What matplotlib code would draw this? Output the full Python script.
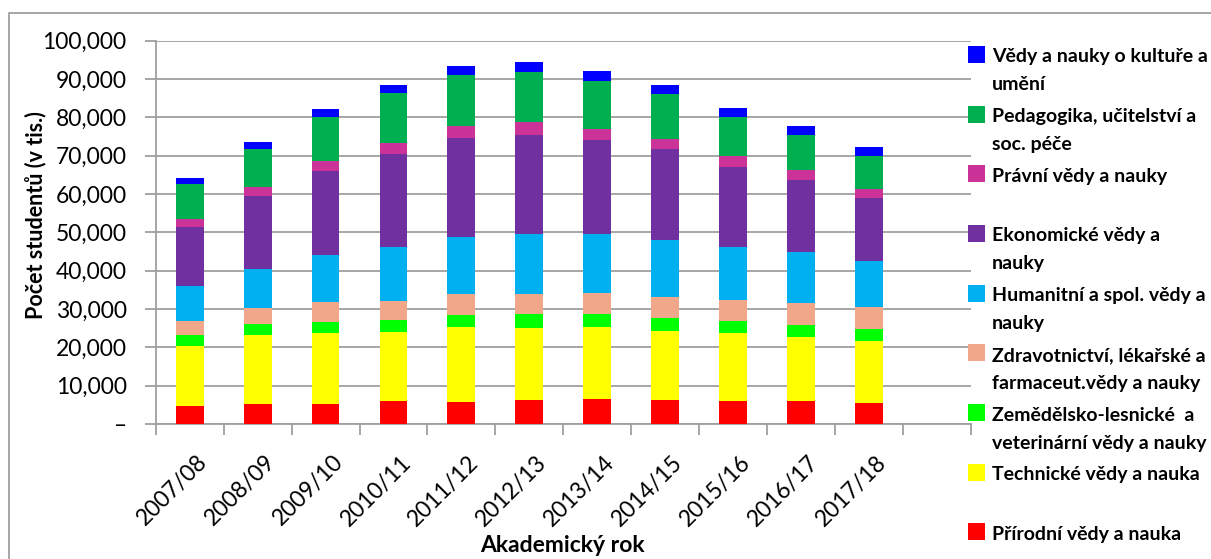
import matplotlib
matplotlib.use('Agg')
import matplotlib.pyplot as plt
import numpy as np
from matplotlib.ticker import FuncFormatter, FixedLocator
import matplotlib.transforms as mtransforms
from matplotlib.patches import Rectangle
from matplotlib.lines import Line2D

plt.rcParams['font.family'] = ['Lato', 'DejaVu Sans']

years = ['2007/08', '2008/09', '2009/10', '2010/11', '2011/12', '2012/13',
         '2013/14', '2014/15', '2015/16', '2016/17', '2017/18']

prirodni = [4700, 5200, 5200, 6000, 5700, 6300, 6500, 6300, 6000, 6000, 5500]
technicke = [15650, 18000, 18500, 18000, 19600, 18700, 18800, 18000, 17700, 16700, 16200]
zemedelske = [2850, 2900, 2900, 3100, 3100, 3700, 3400, 3400, 3200, 3100, 3100]
zdravotnictvi = [3700, 4200, 5200, 5000, 5500, 5200, 5500, 5400, 5400, 5800, 5700]
humanitni = [9100, 10100, 12300, 14100, 14900, 15700, 15400, 14900, 13900, 13300, 12000]
ekonomicke = [15400, 19100, 21900, 24200, 25800, 25800, 24500, 23700, 20800, 18800, 16500]
pravni = [2100, 2300, 2600, 2900, 3200, 3500, 2900, 2600, 2900, 2600, 2300]
pedagogika = [9100, 9900, 11500, 13000, 13200, 12900, 12500, 11800, 10200, 9100, 8600]
kultura = [1600, 1900, 2100, 2100, 2400, 2600, 2600, 2300, 2300, 2300, 2400]

series = [prirodni, technicke, zemedelske, zdravotnictvi, humanitni,
          ekonomicke, pravni, pedagogika, kultura]
labels = ['Přírodní vědy a nauka',
          'Technické vědy a nauka',
          'Zemědělsko-lesnické  a\nveterinární vědy a nauky',
          'Zdravotnictví, lékařské a\nfarmaceut.vědy a nauky',
          'Humanitní a spol. vědy a\nnauky',
          'Ekonomické vědy a\nnauky',
          'Právní vědy a nauky',
          'Pedagogika, učitelství a\nsoc. péče',
          'Vědy a nauky o kultuře a\numění']
colors = ['#FF0000', '#FFFF00', '#00FF00', '#F1A78A', '#00B0F0',
          '#7030A0', '#CC3399', '#00B050', '#0000FF']

W, H = 1211, 559
fig = plt.figure(figsize=(W / 100, H / 100), dpi=100)
ax = fig.add_axes([155.8 / W, 1 - 424 / H, (970.6 - 155.8) / W, (424 - 40.7) / H])

x = np.arange(len(years))
bottom = np.zeros(len(years))
for vals, color in zip(series, colors):
    ax.bar(x, vals, width=0.41, bottom=bottom, color=color, linewidth=0, zorder=3)
    bottom += np.array(vals)

ax.set_xlim(-0.5, 11.5)
ax.set_ylim(0, 100000)

gridc = '#9f9f9f'
ax.yaxis.grid(True, color=gridc, lw=1.3)
ax.set_axisbelow(True)
for s in ['top', 'right']:
    ax.spines[s].set_visible(False)
for s in ['left', 'bottom']:
    ax.spines[s].set_color(gridc)
    ax.spines[s].set_linewidth(1.3)

ax.yaxis.set_major_locator(FixedLocator(np.arange(0, 100001, 10000)))
ax.yaxis.set_major_formatter(FuncFormatter(lambda v, p: '–' if v == 0 else f'{v:,.0f}'))
ax.tick_params(axis='y', length=8, width=1.3, color=gridc, pad=13,
               labelsize=16.5, labelcolor='black')

ax.set_xticks(x)
ax.set_xticklabels(years)
ax.set_xticks(np.arange(-0.5, 12, 1), minor=True)
ax.tick_params(axis='x', which='major', length=0, labelsize=16.5)
ax.tick_params(axis='x', which='minor', length=8, width=1.3, color=gridc)

offset = mtransforms.ScaledTranslation(14 / 100, -30 / 100, fig.dpi_scale_trans)
for lab in ax.get_xticklabels():
    lab.set_rotation(45)
    lab.set_rotation_mode('anchor')
    lab.set_ha('right')
    lab.set_va('center')
    lab.set_transform(lab.get_transform() + offset)

fig.text(36 / W, 1 - 215 / H, 'Počet studentů (v tis.)', rotation=90,
         ha='center', va='center', fontweight='bold', fontsize=15.5)
fig.text(562 / W, 1 - 552 / H, 'Akademický rok', ha='center', va='baseline',
         fontweight='bold', fontsize=16.5)

# legend (manual, Excel-like)
y0, dy = 54.3, 59.7
for i, (lab, col) in enumerate(zip(labels[::-1], colors[::-1])):
    yc = y0 + i * dy
    fig.add_artist(Rectangle((968 / W, 1 - (yc + 8.5) / H), 17 / W, 17 / H,
                             transform=fig.transFigure, color=col, lw=0))
    for j, line in enumerate(lab.split('\n')):
        fig.text(992 / W, 1 - (yc + 8 + 28 * j) / H, line, ha='left', va='baseline',
                 fontweight='bold', fontsize=14)

# outer border (top and left edges visible)
fig.add_artist(Line2D([8.5 / W, 8.5 / W, 1.0], [0.0, 1 - 13 / H, 1 - 13 / H],
                      transform=fig.transFigure, color='#9f9f9f', lw=1.3))

fig.savefig('out.png', dpi=100)
